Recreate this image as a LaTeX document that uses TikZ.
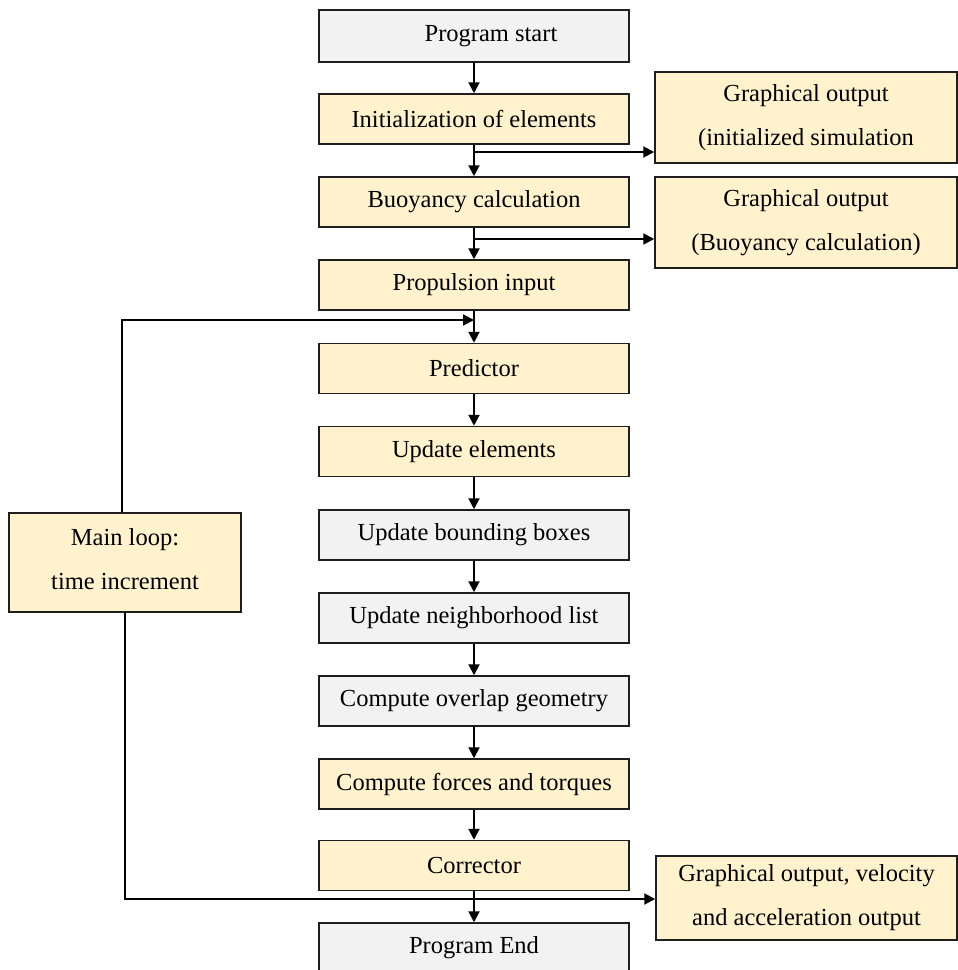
\documentclass[tikz,border=0pt]{standalone}
\usepackage{fontspec}
\setmainfont{Liberation Serif}
\usetikzlibrary{arrows.meta,calc}
\definecolor{cream}{RGB}{255,242,204}
\definecolor{lgray}{RGB}{242,242,242}
\definecolor{edge}{RGB}{30,30,30}
\tikzset{
  box/.style={draw=edge, line width=1.5pt, rectangle, align=center, inner sep=0pt,
    font=\fontsize{24.5}{44}\selectfont, text=black},
  mainbox/.style={box, minimum width=310pt, minimum height=50pt},
  ybox/.style={fill=cream},
  gbox/.style={fill=lgray},
  arr/.style={draw=black, line width=2pt, -{Triangle[length=11pt,width=11pt]}},
  ln/.style={draw=black, line width=2pt}
}
\begin{document}
\begin{tikzpicture}[x=1pt,y=-1pt]
\useasboundingbox (0,0) rectangle (958,970);
% main column
\node[mainbox,gbox,minimum height=52pt] (start) at (474,36) {\hspace*{34pt}Program start};
\node[mainbox,ybox] (init) at (474,119) {Initialization of elements};
\node[mainbox,ybox] (buoy) at (474,202) {Buoyancy calculation};
\node[mainbox,ybox] (prop) at (474,285) {Propulsion input};
\node[mainbox,ybox] (pred) at (474,368.5) {Predictor};
\node[mainbox,ybox] (upd) at (474,451.5) {Update elements};
\node[mainbox,gbox] (bbox) at (474,535) {Update bounding boxes};
\node[mainbox,gbox] (neigh) at (474,618) {Update neighborhood list};
\node[mainbox,gbox] (over) at (474,701) {Compute overlap geometry};
\node[mainbox,ybox] (forces) at (474,784) {Compute forces and torques};
\node[mainbox,ybox] (corr) at (474,865.5) {Corrector};
\node[mainbox,gbox] (end) at (474,948) {Program End};
% side outputs
\node[box,ybox,minimum width=302pt,minimum height=91pt] (out1) at (806,117.5) {Graphical output\\(initialized simulation};
\node[box,ybox,minimum width=302pt,minimum height=91pt] (out2) at (806,222.5) {Graphical output\\(Buoyancy calculation)};
\node[box,ybox,minimum width=301pt,minimum height=84pt] (out3) at (806.5,898) {Graphical output, velocity\\and acceleration output};
% loop box
\node[box,ybox,minimum width=232pt,minimum height=99pt,text depth=8pt] (loop) at (125,562.5) {Main loop:\\time increment};
% main arrows
\draw[arr] (start) -- (init);
\draw[arr] (init) -- (buoy);
\draw[arr] (buoy) -- (prop);
\draw[arr] (prop) -- (pred);
\draw[arr] (pred) -- (upd);
\draw[arr] (upd) -- (bbox);
\draw[arr] (bbox) -- (neigh);
\draw[arr] (neigh) -- (over);
\draw[arr] (over) -- (forces);
\draw[arr] (forces) -- (corr);
\draw[arr] (corr) -- (end);
% branches to outputs
\coordinate (j1) at (474,152);
\coordinate (j2) at (474,239);
\draw[arr] (j1) -- (j1 -| out1.west);
\draw[arr] (j2) -- (j2 -| out2.west);
% loop connectors
\coordinate (lt) at (122,320);
\coordinate (j4) at (474,320);
\draw[arr] (lt |- loop.north) -- (lt) -- (j4);
\coordinate (lb) at (125,899);
\draw[arr] (lb |- loop.south) -- (lb) -- (lb -| out3.west);
\end{tikzpicture}
\end{document}
